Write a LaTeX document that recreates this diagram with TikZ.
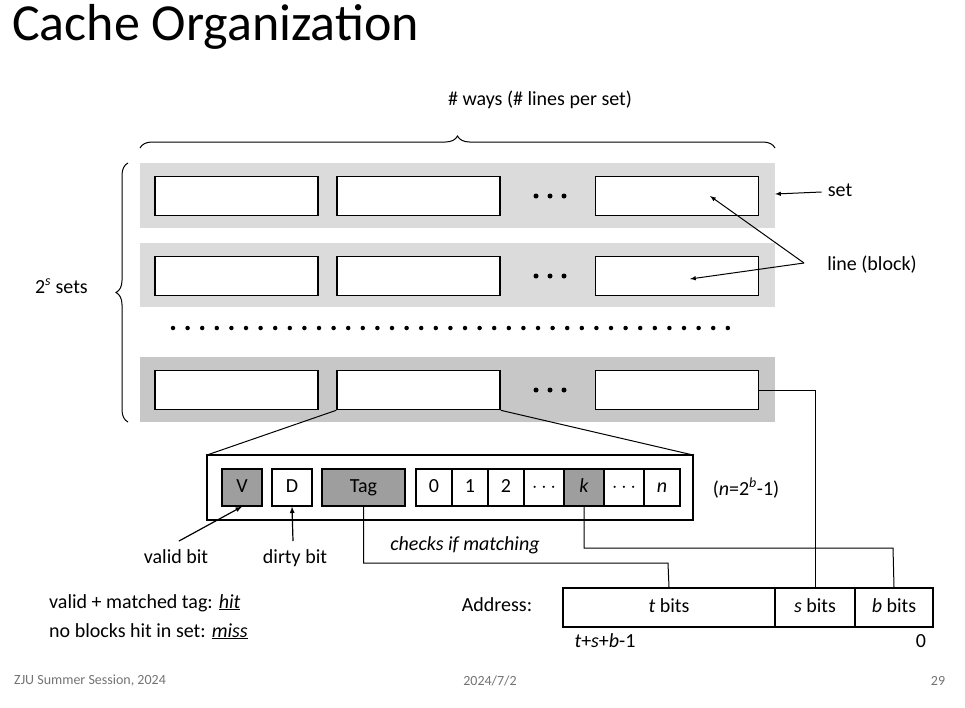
\documentclass[tikz,border=0pt]{standalone}
\usepackage{fontspec}
\setmainfont{Carlito}
\usetikzlibrary{decorations.pathreplacing}
\definecolor{lightset}{rgb}{0.86,0.86,0.86}
\definecolor{darkset}{rgb}{0.78,0.78,0.78}
\definecolor{cellgray}{rgb}{0.62,0.62,0.62}
\definecolor{footgray}{rgb}{0.45,0.45,0.45}
\tikzset{
	line/.style={draw,line width=1.6pt,fill=white,minimum width=163pt,minimum height=39pt,inner sep=0pt},
	cell/.style={draw,line width=1.2pt,fill=white,minimum height=37pt,inner sep=0pt,text height=14pt,text depth=4pt,font=\fontsize{20}{20}\selectfont},
	lbl/.style={font=\fontsize{20}{22}\selectfont,inner sep=0pt,text height=14pt,text depth=4pt},
	dot/.style={circle,fill,inner sep=0pt,minimum size=4.5pt}
}
\begin{document}
\begin{tikzpicture}[x=1pt,y=-1pt]
	\useasboundingbox (0,0) rectangle (965,707);

	\node[anchor=west,inner sep=0pt,font=\fontsize{52}{52}\selectfont] at (12,27) (title) {Cache Organization};

	% sets
	\fill[lightset] (140,163) rectangle (775,228);
	\fill[lightset] (140,243) rectangle (775,307);
	\fill[darkset] (140,357) rectangle (775,422);

	\foreach \y/\r in {196/a,276/b,390/c} {
		\node[line] at (236.5,\y) (\r1) {};
		\node[line] at (418.5,\y) (\r2) {};
		\foreach \x in {536,550,564} \node[dot,minimum size=5pt] at (\x,\y) {};
		\node[line] at (677,\y) (\r3) {};
	}
	\foreach \i in {0,...,38} \node[dot] at (173+\i*14.6,328) {};

	% braces
	\draw[line width=1pt,decorate,decoration={brace,amplitude=12pt}] (140,148) -- (775,148);
	\node[lbl] at (540,100) (ways) {\# ways (\# lines per set)};
	\draw[line width=1pt,decorate,decoration={brace,amplitude=12pt}] (128,422) -- (128,163);
	\node[lbl,anchor=east] at (88,288) (sets) {2\textsuperscript{\itshape s} sets};

	\node[lbl] at (840,191) (set) {set};
	\draw[line width=1pt,-latex] (set.west)++(-6,1) coordinate (sa) -- (775,194);
	\node[lbl] at (872,265) (lb) {line (block)};
	\coordinate (lbw) at (804,263);
	\draw[line width=1pt,-latex] (lbw) -- (710,196);
	\draw[line width=1pt,-latex] (lbw) -- (690,279);

	% zoomed line
	\draw[line width=1pt] (c2.south west) -- (207,455);
	\draw[line width=1pt] (c2.south east) -- (693,455);
	\node[draw,line width=1.6pt,fill=white,minimum width=486pt,minimum height=65pt,inner sep=0pt] at (450,487.5) (blk) {};
	\node[cell,fill=cellgray,minimum width=40pt] at (242,487.5) (V) {V};
	\node[cell,minimum width=40pt] at (292,487.5) (D) {D};
	\node[cell,fill=cellgray,minimum width=83pt] at (363.5,487.5) (tag) {Tag};
	\node[cell,minimum width=36pt] at (434,487.5) (b0) {0};
	\node[cell,minimum width=36pt] at (470,487.5) (b1) {1};
	\node[cell,minimum width=36pt] at (506,487.5) (b2) {2};
	\node[cell,minimum width=40pt] at (544,487.5) (b3) {$\cdots$};
	\node[cell,fill=cellgray,minimum width=40pt] at (584,487.5) (bk) {\itshape k};
	\node[cell,minimum width=40pt] at (624,487.5) (b5) {$\cdots$};
	\node[cell,minimum width=36pt] at (662,487.5) (bn) {\itshape n};
	\node[lbl] at (746,490) (nn) {(\textit{n}=2\textsuperscript{\itshape b}-1)};

	\node[lbl] at (176,558) (valid) {valid bit};
	\node[lbl] at (295,558) (dirty) {dirty bit};
	\draw[line width=1.2pt,-latex] (179,541) -- (V.south);
	\draw[line width=1.2pt,-latex] (293,541) -- (D.south);

	% address
	\node[draw,line width=1.6pt,minimum width=212pt,minimum height=39pt,inner sep=0pt,text height=14pt,text depth=4pt] at (669,607.5) (tb) {\fontsize{20}{20}\selectfont\textit{t} bits};
	\node[draw,line width=1.6pt,minimum width=80pt,minimum height=39pt,inner sep=0pt,text height=14pt,text depth=4pt] at (815,607.5) (sb) {\fontsize{20}{20}\selectfont\textit{s} bits};
	\node[draw,line width=1.6pt,minimum width=78pt,minimum height=39pt,inner sep=0pt,text height=14pt,text depth=4pt] at (894,607.5) (bb) {\fontsize{20}{20}\selectfont\textit{b} bits};
	\node[lbl] at (497,606) (addr) {Address:};
	\node[lbl] at (605,642) (hi) {\textit{t}+\textit{s}+\textit{b}-1};
	\node[lbl] at (921,642) (lo) {0};

	\draw[line width=1pt] (tag.south) |- (668,563) -- (tb.north);
	\node[lbl] at (465,545) (chk) {\itshape checks if matching};
	\draw[line width=1pt] (bk.south) |- (893,548) -- (bb.north);
	\draw[line width=1pt] (c3.east) -- (815,390) -- (sb.north);

	\node[lbl,anchor=west] at (49,603) (hit) {valid + matched tag: \textit{\underline{hit}}};
	\node[lbl,anchor=west] at (49,632) (miss) {no blocks hit in set: \textit{\underline{miss}}};

	% footer
	\node[anchor=west,inner sep=0pt,text=footgray,font=\fontsize{14}{14}\selectfont] at (14,681) (f1) {ZJU Summer Session, 2024};
	\node[inner sep=0pt,text=footgray,font=\fontsize{14}{14}\selectfont] at (490,681) (f2) {2024/7/2};
	\node[inner sep=0pt,text=footgray,font=\fontsize{14}{14}\selectfont] at (938,681) (f3) {29};
\end{tikzpicture}
\end{document}
